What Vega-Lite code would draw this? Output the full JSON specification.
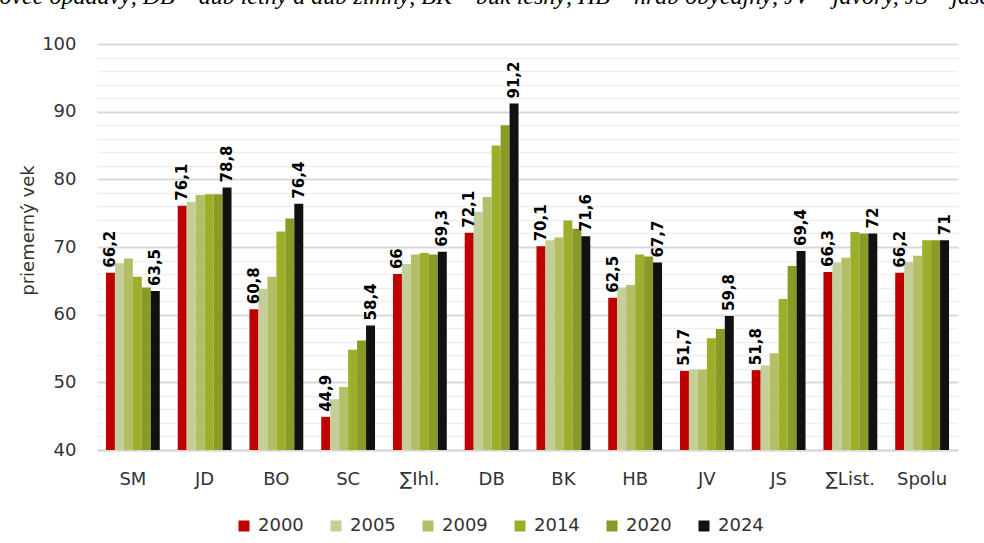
{
  "$schema": "https://vega.github.io/schema/vega-lite/v6.json",
  "autosize": "none",
  "width": 861,
  "height": 406,
  "padding": {"left": 97, "top": 44, "right": 26, "bottom": 93},
  "background": "white",
  "title": {
    "text": "smrekovec opadavý, DB – dub letný a dub zimný, BK – buk lesný, HB – hrab obyčajný, JV – javory, JS – jaseň štíhly",
    "anchor": "start", "frame": "group", "font": "Liberation Serif", "fontStyle": "italic",
    "fontWeight": "normal", "fontSize": 24, "color": "#000000", "baseline": "alphabetic",
    "offset": 0, "dx": -154, "dy": -7
  },
  "config": {
    "font": "DejaVu Sans",
    "view": {"stroke": null}
  },
  "data": {"values": [
    {"cat": "SM", "year": "2000", "value": 66.2}, {"cat": "SM", "year": "2005", "value": 67.6}, {"cat": "SM", "year": "2009", "value": 68.3}, {"cat": "SM", "year": "2014", "value": 65.6}, {"cat": "SM", "year": "2020", "value": 64.0}, {"cat": "SM", "year": "2024", "value": 63.5},
    {"cat": "JD", "year": "2000", "value": 76.1}, {"cat": "JD", "year": "2005", "value": 76.7}, {"cat": "JD", "year": "2009", "value": 77.7}, {"cat": "JD", "year": "2014", "value": 77.8}, {"cat": "JD", "year": "2020", "value": 77.8}, {"cat": "JD", "year": "2024", "value": 78.8},
    {"cat": "BO", "year": "2000", "value": 60.8}, {"cat": "BO", "year": "2005", "value": 63.8}, {"cat": "BO", "year": "2009", "value": 65.6}, {"cat": "BO", "year": "2014", "value": 72.3}, {"cat": "BO", "year": "2020", "value": 74.2}, {"cat": "BO", "year": "2024", "value": 76.4},
    {"cat": "SC", "year": "2000", "value": 44.9}, {"cat": "SC", "year": "2005", "value": 47.5}, {"cat": "SC", "year": "2009", "value": 49.3}, {"cat": "SC", "year": "2014", "value": 54.8}, {"cat": "SC", "year": "2020", "value": 56.2}, {"cat": "SC", "year": "2024", "value": 58.4},
    {"cat": "∑Ihl.", "year": "2000", "value": 66.0}, {"cat": "∑Ihl.", "year": "2005", "value": 67.5}, {"cat": "∑Ihl.", "year": "2009", "value": 68.9}, {"cat": "∑Ihl.", "year": "2014", "value": 69.1}, {"cat": "∑Ihl.", "year": "2020", "value": 68.9}, {"cat": "∑Ihl.", "year": "2024", "value": 69.3},
    {"cat": "DB", "year": "2000", "value": 72.1}, {"cat": "DB", "year": "2005", "value": 75.2}, {"cat": "DB", "year": "2009", "value": 77.4}, {"cat": "DB", "year": "2014", "value": 85.0}, {"cat": "DB", "year": "2020", "value": 88.0}, {"cat": "DB", "year": "2024", "value": 91.2},
    {"cat": "BK", "year": "2000", "value": 70.1}, {"cat": "BK", "year": "2005", "value": 71.0}, {"cat": "BK", "year": "2009", "value": 71.4}, {"cat": "BK", "year": "2014", "value": 73.9}, {"cat": "BK", "year": "2020", "value": 72.7}, {"cat": "BK", "year": "2024", "value": 71.6},
    {"cat": "HB", "year": "2000", "value": 62.5}, {"cat": "HB", "year": "2005", "value": 64.0}, {"cat": "HB", "year": "2009", "value": 64.4}, {"cat": "HB", "year": "2014", "value": 68.9}, {"cat": "HB", "year": "2020", "value": 68.6}, {"cat": "HB", "year": "2024", "value": 67.7},
    {"cat": "JV", "year": "2000", "value": 51.7}, {"cat": "JV", "year": "2005", "value": 51.9}, {"cat": "JV", "year": "2009", "value": 51.9}, {"cat": "JV", "year": "2014", "value": 56.5}, {"cat": "JV", "year": "2020", "value": 57.9}, {"cat": "JV", "year": "2024", "value": 59.8},
    {"cat": "JS", "year": "2000", "value": 51.8}, {"cat": "JS", "year": "2005", "value": 52.5}, {"cat": "JS", "year": "2009", "value": 54.3}, {"cat": "JS", "year": "2014", "value": 62.3}, {"cat": "JS", "year": "2020", "value": 67.2}, {"cat": "JS", "year": "2024", "value": 69.4},
    {"cat": "∑List.", "year": "2000", "value": 66.3}, {"cat": "∑List.", "year": "2005", "value": 67.7}, {"cat": "∑List.", "year": "2009", "value": 68.4}, {"cat": "∑List.", "year": "2014", "value": 72.2}, {"cat": "∑List.", "year": "2020", "value": 72.0}, {"cat": "∑List.", "year": "2024", "value": 72.0},
    {"cat": "Spolu", "year": "2000", "value": 66.2}, {"cat": "Spolu", "year": "2005", "value": 67.8}, {"cat": "Spolu", "year": "2009", "value": 68.7}, {"cat": "Spolu", "year": "2014", "value": 71.0}, {"cat": "Spolu", "year": "2020", "value": 71.0}, {"cat": "Spolu", "year": "2024", "value": 71.0}
  ]},
  "transform": [
    {"calculate": "replace(format(datum.value, '.1~f'), '.', ',')", "as": "label"}
  ],
  "encoding": {
    "x": {
      "field": "cat", "type": "nominal",
      "sort": ["SM", "JD", "BO", "SC", "∑Ihl.", "DB", "BK", "HB", "JV", "JS", "∑List.", "Spolu"],
      "scale": {"paddingInner": 0.25, "paddingOuter": 0.125},
      "axis": {
        "title": null, "labelAngle": 0, "ticks": false, "tickSize": 0, "labelPadding": 20,
        "labelFontSize": 18, "labelColor": "#333333", "domainColor": "#D9D9D9", "domainWidth": 2,
        "grid": false
      }
    },
    "xOffset": {"field": "year", "type": "nominal", "sort": ["2000", "2005", "2009", "2014", "2020", "2024"]},
    "y": {
      "field": "value", "type": "quantitative",
      "scale": {"domain": [40, 100], "nice": false, "zero": false},
      "axis": {
        "title": "priemerný vek", "titleFontSize": 18, "titleFontWeight": "normal", "titleColor": "#333333",
        "titleX": -69, "titleY": 186, "titleAngle": 270, "titleAlign": "center", "titleBaseline": "middle",
        "values": [40, 42, 44, 46, 48, 50, 52, 54, 56, 58, 60, 62, 64, 66, 68, 70, 72, 74, 76, 78, 80, 82, 84, 86, 88, 90, 92, 94, 96, 98, 100],
        "labelExpr": "datum.value % 10 === 0 ? datum.label : ''",
        "labelFontSize": 18, "labelColor": "#333333", "labelPadding": 21,
        "ticks": false, "tickSize": 0, "domain": false,
        "gridColor": {"condition": {"test": "datum.value % 10 === 0", "value": "#D9D9D9"}, "value": "#F0F0F0"},
        "gridWidth": {"condition": {"test": "datum.value % 10 === 0", "value": 2}, "value": 1.5}
      }
    }
  },
  "layer": [
    {
      "mark": {"type": "bar"},
      "encoding": {
        "y2": {"datum": 40},
        "color": {
          "field": "year", "type": "nominal",
          "scale": {"domain": ["2000", "2005", "2009", "2014", "2020", "2024"], "range": ["#C00000", "#C4CE98", "#B2BF66", "#9DAF2A", "#8A9A27", "#111111"]},
          "legend": {
            "title": null, "orient": "none", "legendX": 138, "legendY": 473, "direction": "horizontal", "columns": 6,
            "symbolType": "square", "symbolSize": 121, "symbolStrokeWidth": 0, "labelFontSize": 18,
            "labelColor": "#333333", "labelOffset": 5, "columnPadding": 23, "padding": 0
          }
        }
      }
    },
    {
      "transform": [{"filter": "datum.year === '2000' || datum.year === '2024'"}],
      "mark": {"type": "text", "angle": 270, "align": "left", "baseline": "middle", "dx": 5, "font": "DejaVu Sans", "fontWeight": "bold", "fontSize": 15, "color": "#000000"},
      "encoding": {"text": {"field": "label"}}
    }
  ]
}
